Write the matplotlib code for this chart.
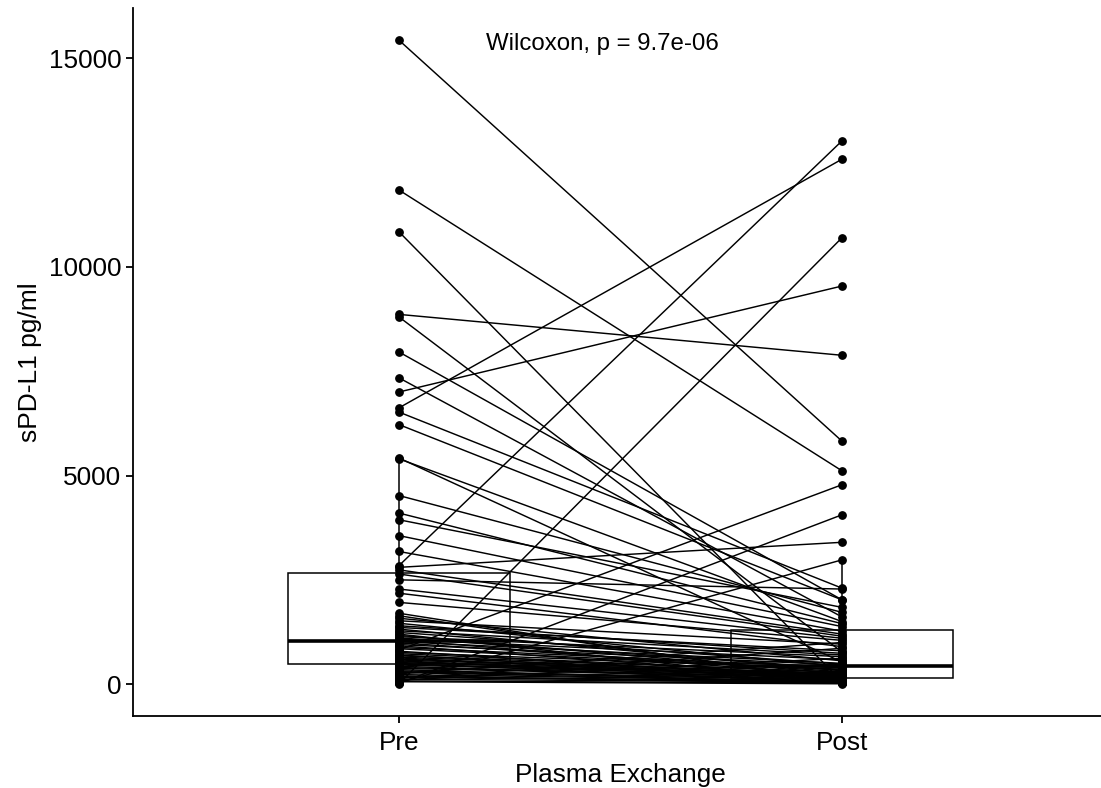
import matplotlib
matplotlib.use("Agg")
import matplotlib.pyplot as plt
import numpy as np

plt.rcParams['font.family'] = ['Liberation Sans', 'DejaVu Sans']

groups = ["Pre", "Post"]

# paired sPD-L1 values (pg/ml), one entry per patient
pre = [15430, 11840, 10840, 8860, 8800, 7960, 7340, 7000, 6620, 6520,
       6220, 5420, 5400, 4520, 4100, 3940, 3560, 3180, 2840, 2800,
       2740, 2640, 2500, 2280, 2180, 1960, 10, 20, 40, 820,
       1700, 1640, 1580, 1520, 1460, 1400, 1360, 1320, 1280, 1240,
       1200, 1170, 1140, 1110, 1080, 1060, 1020, 990, 950, 920,
       880, 850, 790, 760, 730, 700, 680, 650, 630, 600,
       580, 560, 540, 520, 500, 480, 460, 430, 400, 380,
       350, 320, 300, 280, 250, 230, 200, 180, 160, 140,
       120, 100, 80, 60]
post = [5820, 5110, 60, 7880, 770, 2020, 1610, 9540, 12580, 2300,
        2020, 530, 1500, 1720, 1450, 1840, 1380, 1270, 13020, 3400,
        1200, 1150, 2280, 1100, 900, 1050, 10700, 4060, 2980, 4780,
        40, 90, 560, 960, 420, 740, 800, 320, 700, 480,
        35, 250, 660, 380, 590, 200, 500, 300, 460, 160,
        400, 340, 130, 360, 280, 95, 290, 240, 110, 260,
        230, 75, 220, 190, 45, 210, 180, 85, 170, 150,
        30, 120, 100, 55, 1000, 80, 20, 70, 65, 860,
        50, 620, 25, 10]

p_label = "Wilcoxon, p = 9.7e-06"

fig = plt.figure(figsize=(11.01, 7.88), dpi=100)
ax = fig.add_axes([0.1208, 0.0914, 0.8856, 0.8985])

bp = ax.boxplot([pre, post], positions=[1, 2], widths=0.5, showfliers=False,
                showcaps=False, patch_artist=True, zorder=1)
for b in bp['boxes']:
    b.set_facecolor('white')
    b.set_edgecolor('black')
    b.set_linewidth(1.1)
for w in bp['whiskers']:
    w.set_color('black')
    w.set_linewidth(1.1)
for m in bp['medians']:
    m.set_color('black')
    m.set_linewidth(2.6)

for a, b in zip(pre, post):
    ax.plot([1, 2], [a, b], color='black', lw=1.05, zorder=2)
ax.scatter(np.ones(len(pre)), pre, s=28, color='black', zorder=3)
ax.scatter(np.full(len(post), 2), post, s=28, color='black', zorder=3)

ymax = max(max(pre), max(post))
ymin = min(min(pre), min(post))
rng = ymax - ymin
ax.set_ylim(ymin - 0.05 * rng, ymax + 0.05 * rng)
ax.set_xlim(0.4, 2.6)

ax.annotate(p_label, xy=(1.46, ymax), xytext=(0, -3), textcoords='offset points',
            ha='center', va='center', fontsize=17.3)

ax.set_xticks([1, 2])
ax.set_xticklabels(groups)
ax.set_yticks([0, 5000, 10000, 15000])
ax.tick_params(labelsize=18.8, length=5, width=1.3, colors='black')
ax.tick_params(axis='x', pad=5.5)
ax.set_xlabel("Plasma Exchange", fontsize=18.8, labelpad=6)
ax.set_ylabel("sPD-L1 pg/ml", fontsize=19, labelpad=5)

ax.spines['top'].set_visible(False)
ax.spines['right'].set_visible(False)
ax.spines['left'].set_linewidth(1.3)
ax.spines['bottom'].set_linewidth(1.3)

plt.savefig("out.png", dpi=100)
